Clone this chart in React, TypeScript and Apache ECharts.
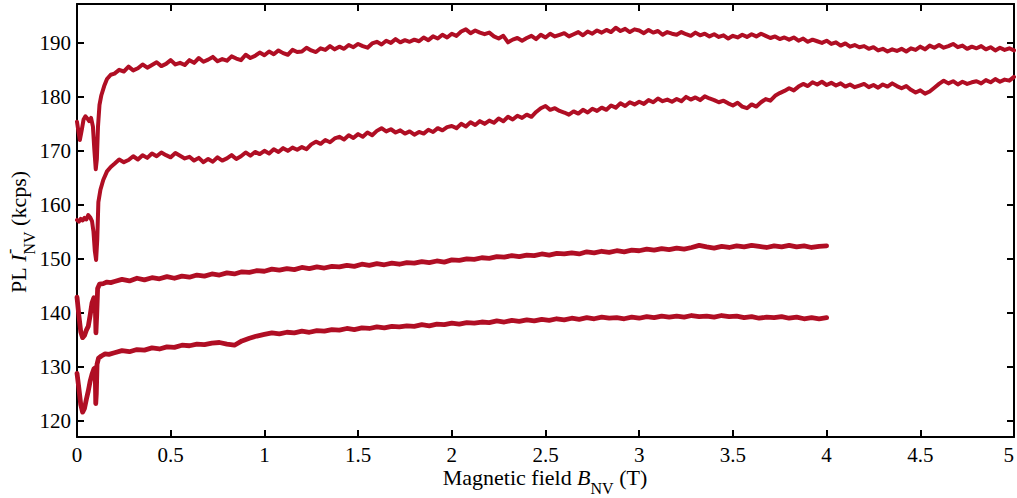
import React, { useEffect, useRef } from "react";
import * as echarts from "echarts";

const LINE_COLOR = "#B00E24";
const FONT = "Liberation Serif";

// x-axis ticks (T)
const xTicks = { min: 0, max: 5, interval: 0.5 };
// y-axis range (kcps)
const yRange = { min: 117, max: 197.2 };

// ---------- Series 1 (top) ----------
const s1StartB = [0, 0.008, 0.015, 0.025, 0.035, 0.045, 0.055, 0.065, 0.075, 0.085, 0.092, 0.1, 0.106, 0.112, 0.12, 0.13, 0.145, 0.16, 0.18];
const s1StartV = [175.4, 173.5, 172.0, 173.8, 175.8, 176.4, 176.0, 175.5, 176.1, 174.5, 170.5, 166.6, 168.5, 174.5, 178.5, 180.3, 182.0, 183.3, 184.1];
// from B = 0.20, every 0.025 T
const s1Main = [
  184.3, 185.0, 184.7, 185.6, 184.9, 185.3, 186.0, 185.4,
  185.9, 186.4, 185.7, 186.1, 186.8, 186.0, 186.3, 185.9,
  186.8, 186.3, 187.2, 186.5, 186.9, 187.4, 186.6, 187.0,
  186.7, 187.5, 187.1, 186.8, 187.8, 187.2, 187.6, 188.2,
  187.7, 188.4, 187.9, 188.6, 188.1, 187.8, 188.7, 188.3,
  188.4, 189.1, 188.6, 188.3, 189.0, 188.7, 189.4, 188.8,
  189.3, 188.9, 189.6, 189.2, 189.8, 189.4, 189.1, 189.9,
  190.2, 189.7, 190.4, 190.0, 190.7, 190.1, 190.5, 190.2,
  190.6, 190.3, 191.0, 190.5, 191.2, 190.8, 191.5, 191.0,
  191.7, 191.3, 192.1, 192.5, 191.8, 192.3, 191.9, 191.6,
  191.9, 191.2, 190.8, 191.3, 190.1, 190.6, 190.9, 190.4,
  190.9, 191.3, 190.7, 191.5, 191.0, 191.7, 191.2, 191.5,
  191.8, 191.2, 191.6, 192.0, 191.4, 192.1, 191.7, 192.3,
  191.9, 192.4, 192.0, 192.8, 192.2, 192.6, 192.0, 192.5,
  192.3, 191.8, 192.4, 191.9, 192.2, 191.5, 192.0, 191.7,
  191.5, 192.0, 191.6, 191.3, 191.9, 191.4, 191.7, 191.2,
  191.6, 191.1, 191.4, 190.8, 191.3, 191.0, 191.5, 191.1,
  191.6, 191.2, 191.7, 191.3, 190.9, 191.2, 190.7, 191.0,
  190.6, 191.0, 190.4, 190.8, 190.2, 190.6, 190.3, 190.0,
  190.4, 189.8, 190.1, 189.5, 189.9, 189.3, 189.6, 189.2,
  189.4, 188.9, 189.2, 188.6, 188.9, 188.4, 188.8, 188.5,
  188.9, 188.4, 189.0, 188.7, 189.3, 188.8, 189.5, 189.1,
  189.6, 189.1, 189.4, 189.8, 189.2, 189.5, 188.9, 189.3,
  189.0, 189.4, 188.8, 189.2, 188.6, 189.1, 188.7, 189.0,
  188.6,
];

// ---------- Series 2 ----------
const s2StartB = [0, 0.01, 0.02, 0.03, 0.04, 0.05, 0.06, 0.07, 0.08, 0.088, 0.095, 0.102, 0.108, 0.114, 0.125, 0.14, 0.16, 0.18];
const s2StartV = [157.2, 156.9, 157.4, 157.1, 157.6, 157.3, 158.1, 157.7, 157.0, 155.0, 151.5, 149.8, 153.5, 160.5, 162.8, 164.6, 166.2, 167.0];
// from B = 0.20, every 0.025 T
const s2Main = [
  167.6, 168.4, 167.9, 168.3, 169.0, 168.4, 169.2, 168.7,
  169.5, 169.0, 169.7, 169.2, 168.8, 169.6, 169.1, 168.6,
  168.9, 168.2, 168.7, 167.9, 168.5, 168.0, 168.8, 168.2,
  168.6, 169.2, 168.5, 169.0, 169.7, 169.1, 169.8, 169.4,
  170.0, 169.5, 170.3, 169.8, 170.5, 170.0, 170.6, 170.2,
  170.7, 170.3, 171.2, 171.7, 171.3, 172.0, 171.6, 172.3,
  172.6, 172.1, 172.9, 172.4, 173.1, 172.6, 173.4, 172.9,
  173.7, 174.2, 173.6, 174.0, 173.4, 173.8, 173.2, 173.6,
  173.0, 173.5, 173.2, 173.9, 173.5, 174.2, 173.8, 174.4,
  174.6, 174.2, 175.0, 174.5, 175.3, 174.8, 175.5, 175.0,
  175.6, 175.2, 176.0, 175.5, 176.3, 175.8, 176.5, 176.1,
  176.7, 176.3, 177.2, 177.9, 178.3, 177.6, 177.9, 177.4,
  177.1, 176.7, 177.3, 176.9, 177.6, 177.1, 177.8, 177.4,
  178.0, 177.6, 178.4, 178.0, 178.8, 178.3, 179.0, 178.6,
  179.1, 178.7, 179.4, 179.0, 179.7, 179.2, 179.5, 179.1,
  179.6, 179.2, 180.0, 179.5, 179.9, 179.4, 180.1, 179.7,
  179.4, 179.0, 179.3, 178.8, 178.4, 178.9, 178.2, 177.9,
  178.6, 178.2, 179.0, 179.6, 179.3, 180.2, 180.7, 181.1,
  181.6, 181.2, 181.9, 182.4, 182.0, 182.7, 182.3, 182.8,
  182.2, 182.6, 182.1, 182.5, 181.9, 182.3, 181.8, 182.1,
  182.4, 181.8, 182.2, 181.7, 182.3, 181.9, 182.5, 182.0,
  181.6, 182.0, 181.3, 180.8, 181.2, 180.6, 181.0, 181.7,
  182.4, 183.0, 182.5, 182.9, 182.3, 182.8, 182.4, 182.7,
  182.9, 182.5, 183.1, 182.7, 183.3, 182.8, 183.2, 183.0,
  183.7,
];

// ---------- Series 3 ----------
const s3StartB = [0, 0.01, 0.02, 0.03, 0.04, 0.05, 0.06, 0.07, 0.08, 0.09, 0.097, 0.101, 0.105, 0.11, 0.12, 0.14, 0.16, 0.18];
const s3StartV = [142.9, 139.5, 136.5, 135.4, 135.8, 136.8, 137.5, 139.5, 141.8, 142.8, 142.5, 136.3, 139.5, 144.5, 145.3, 145.4, 145.7, 145.6];
// from B = 0.20, every 0.04 T
const s3Main = [
  145.8, 146.2, 145.9, 146.4, 146.1, 146.5, 146.3, 146.7, 146.4, 146.8,
  146.6, 147.0, 146.8, 147.2, 147.0, 147.4, 147.2, 147.6, 147.5, 147.8,
  147.7, 148.1, 147.9, 148.2, 148.0, 148.4, 148.2, 148.5, 148.3, 148.6,
  148.5, 148.8, 148.6, 149.0, 148.8, 149.1, 148.9, 149.2, 149.0, 149.3,
  149.2, 149.5, 149.3, 149.6, 149.4, 149.8, 149.7, 150.0, 149.9, 150.2,
  150.1, 150.4, 150.3, 150.6, 150.4, 150.7, 150.6, 150.9, 150.7, 151.0,
  150.9, 151.1, 150.9, 151.3, 151.1, 151.4, 151.2, 151.5, 151.3, 151.6,
  151.5, 151.8, 151.6, 151.9, 151.7, 152.0, 151.8, 152.1, 152.5, 152.2,
  152.0, 152.3, 152.1, 152.4, 152.2, 152.5, 152.3, 152.1, 152.4, 152.2,
  152.5, 152.2, 152.4, 152.1, 152.3, 152.4,
];

// ---------- Series 4 (bottom) ----------
const s4StartB = [0, 0.01, 0.02, 0.03, 0.04, 0.05, 0.06, 0.07, 0.08, 0.09, 0.097, 0.1, 0.103, 0.107, 0.115, 0.13, 0.15, 0.17];
const s4StartV = [128.8, 126.0, 123.0, 121.6, 122.3, 124.0, 125.5, 127.3, 128.6, 129.6, 129.8, 123.2, 125.0, 130.5, 131.6, 132.0, 132.4, 132.3];
// from B = 0.20, every 0.04 T
const s4Main = [
  132.6, 133.0, 132.8, 133.2, 133.1, 133.5, 133.3, 133.7, 133.6, 134.0,
  133.9, 134.2, 134.1, 134.4, 134.5, 134.2, 134.0, 134.8, 135.3, 135.7,
  136.0, 136.3, 136.1, 136.4, 136.3, 136.6, 136.4, 136.7, 136.6, 136.9,
  136.8, 137.1, 136.9, 137.2, 137.1, 137.4, 137.2, 137.5, 137.4, 137.6,
  137.5, 137.8, 137.6, 137.9, 137.8, 138.1, 137.9, 138.2, 138.1, 138.3,
  138.2, 138.5, 138.3, 138.6, 138.4, 138.7, 138.5, 138.8, 138.6, 138.9,
  138.7, 139.0, 138.8, 139.1, 138.9, 139.2, 139.0, 139.1, 138.9, 139.2,
  139.0, 139.3, 139.1, 139.4, 139.2, 139.4, 139.2, 139.5, 139.3, 139.4,
  139.2, 139.5, 139.3, 139.4, 139.1, 139.3, 139.0, 139.2, 139.1, 139.3,
  139.0, 139.2, 138.9, 139.1, 138.9, 139.1,
];

const MAIN_START = 0.2;
const STEP_12 = 0.025;
const STEP_34 = 0.04;

function pairs(b: number[], v: number[]): number[][] {
  return b.map((x, i) => [x, v[i]]);
}
function sampled(start: number, step: number, v: number[]): number[][] {
  return v.map((y, i) => [Math.round((start + i * step) * 1000) / 1000, y]);
}
function build(bs: number[], vs: number[], main: number[], step: number) {
  return pairs(bs, vs).concat(sampled(MAIN_START, step, main));
}

const axisLineStyle = { color: "#000", width: 2 };

export default function App() {
  const ref = useRef<HTMLDivElement>(null);

  useEffect(() => {
    if (!ref.current) return;
    const chart = echarts.init(ref.current, undefined, { renderer: "svg" });

    const xCommon = {
      type: "value" as const,
      min: xTicks.min,
      max: xTicks.max,
      interval: xTicks.interval,
      axisLine: { show: true, onZero: false, lineStyle: axisLineStyle },
      axisTick: { show: true, inside: true, length: 7, lineStyle: axisLineStyle },
      splitLine: { show: false },
    };
    const yCommon = {
      type: "value" as const,
      min: yRange.min,
      max: yRange.max,
      splitNumber: 8,
      axisLine: { show: true, onZero: false, lineStyle: axisLineStyle },
      axisTick: { show: true, inside: true, length: 7, lineStyle: axisLineStyle },
      splitLine: { show: false },
    };

    const lineSeries = (data: number[][], width: number) => ({
      type: "line",
      data,
      xAxisIndex: 0,
      yAxisIndex: 0,
      showSymbol: false,
      symbol: "none",
      lineStyle: { color: LINE_COLOR, width, join: "round", cap: "round" },
      itemStyle: { color: LINE_COLOR },
      silent: true,
    });

    const tokenBase = { fontFamily: FONT, fill: "#000", color: "#000" };

    chart.setOption({
      animation: false,
      backgroundColor: "#ffffff",
      grid: {
        left: 77,
        right: 3,
        top: 4,
        bottom: 61,
        containLabel: false,
        outerBoundsMode: "none",
      },
      xAxis: [
        {
          ...xCommon,
          position: "bottom",
          axisLabel: {
            color: "#000",
            fontFamily: FONT,
            fontSize: 21,
            margin: 7,
            alignMaxLabel: "right",
          },
        },
        { ...xCommon, position: "top", axisLabel: { show: false } },
      ],
      yAxis: [
        {
          ...yCommon,
          position: "left",
          axisLabel: {
            color: "#000",
            fontFamily: FONT,
            fontSize: 21,
            margin: 6,
            formatter: (v: number) => (Math.abs(v % 10) < 1e-6 ? String(v) : ""),
          },
        },
        { ...yCommon, position: "right", axisLabel: { show: false } },
      ],
      series: [
        lineSeries(build(s1StartB, s1StartV, s1Main, STEP_12), 4),
        lineSeries(build(s2StartB, s2StartV, s2Main, STEP_12), 4),
        lineSeries(build(s3StartB, s3StartV, s3Main, STEP_34), 4.8),
        lineSeries(build(s4StartB, s4StartV, s4Main, STEP_34), 4.8),
      ],
      graphic: [
        {
          type: "text",
          x: 545,
          y: 477,
          silent: true,
          style: {
            text: "Magnetic field {i|B}{s|NV} (T)",
            align: "center",
            verticalAlign: "middle",
            fontFamily: FONT,
            fontSize: 22,
            fill: "#000",
            rich: {
              i: { ...tokenBase, fontSize: 22, fontStyle: "italic" },
              s: { ...tokenBase, fontSize: 16, padding: [22, 0, 0, 0] },
            },
          },
        },
        {
          type: "group",
          x: 18,
          y: 293,
          rotation: Math.PI / 2,
          silent: true,
          children: [
            {
              type: "text",
              x: 0,
              y: 0,
              style: {
                text: "PL {i|I}{s|NV} (kcps)",
                align: "left",
                verticalAlign: "middle",
                fontFamily: FONT,
                fontSize: 22,
                fill: "#000",
                rich: {
                  i: { ...tokenBase, fontSize: 22, fontStyle: "italic" },
                  s: { ...tokenBase, fontSize: 16, padding: [22, 0, 0, 0] },
                },
              },
            },
            {
              type: "text",
              x: 39,
              y: -9,
              style: {
                text: "-",
                align: "left",
                verticalAlign: "middle",
                fontFamily: FONT,
                fontSize: 16,
                fill: "#000",
              },
            },
          ],
        },
      ],
    });

    return () => chart.dispose();
  }, []);

  return (
    <div
      ref={ref}
      style={{ position: "fixed", left: 0, top: 0, width: 1017, height: 498, background: "#fff" }}
    />
  );
}
